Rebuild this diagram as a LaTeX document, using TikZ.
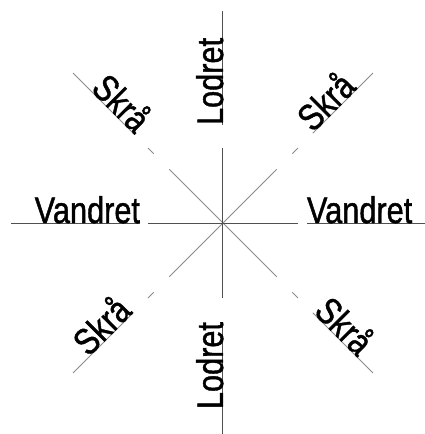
\documentclass[tikz,border=0pt]{standalone}
\usepackage{graphicx}
\usepackage{fontspec}
\setmainfont[FakeBold=1.3]{Liberation Sans}
\newcommand\narrowtext[1]{\scalebox{0.83}[1]{#1}}
\definecolor{axisgray}{HTML}{505050}
\definecolor{diaggray}{HTML}{8C8C8C}
\begin{document}
\begin{tikzpicture}[x=1pt,y=1pt,
  axisline/.style={draw=axisgray,line width=1pt},
  diagline/.style={draw=diaggray,line width=1pt},
  lbl/.style={inner sep=0pt,outer sep=0pt,font=\fontsize{37}{40}\selectfont,text=black}]
\fill[white] (-223,-211) rectangle (202,223);
\useasboundingbox (-223,-211) rectangle (202,223);
\coordinate (c) at (0,0);
% axis coordinates
\coordinate (inE) at (75,0);
\coordinate (inW) at (-75,0);
\coordinate (inN) at (0,75);
\coordinate (inS) at (0,-75);
\coordinate (oE1) at (84,0);
\coordinate (oE2) at (202,0);
\coordinate (oW1) at (-83,0);
\coordinate (oW2) at (-212,0);
\coordinate (oN1) at (0,98);
\coordinate (oN2) at (0,212);
\coordinate (oS1) at (0,-99);
\coordinate (oS2) at (0,-211);
% diagonal coordinates
\coordinate (inNE) at (45:76pt);
\coordinate (inNW) at (135:76pt);
\coordinate (inSW) at (225:76pt);
\coordinate (inSE) at (315:76pt);
\coordinate (tNEa) at (45:98pt);   \coordinate (tNEb) at (45:106pt);
\coordinate (tNWa) at (135:98pt);  \coordinate (tNWb) at (135:106pt);
\coordinate (tSWa) at (225:98pt);  \coordinate (tSWb) at (225:106pt);
\coordinate (tSEa) at (315:98pt);  \coordinate (tSEb) at (315:106pt);
\coordinate (oNEa) at (45:127pt);  \coordinate (oNEb) at (45:212pt);
\coordinate (oNWa) at (135:125pt); \coordinate (oNWb) at (135:212pt);
\coordinate (oSWa) at (225:127pt); \coordinate (oSWb) at (225:212pt);
\coordinate (oSEa) at (315:127pt); \coordinate (oSEb) at (315:212pt);
% diagonal lines
\draw[diagline] (inNE) -- (inSW);
\draw[diagline] (inNW) -- (inSE);
\draw[diagline] (tNEa) -- (tNEb);
\draw[diagline] (tNWa) -- (tNWb);
\draw[diagline] (tSWa) -- (tSWb);
\draw[diagline] (tSEa) -- (tSEb);
\draw[diagline] (oNEa) -- (oNEb);
\draw[diagline] (oNWa) -- (oNWb);
\draw[diagline] (oSWa) -- (oSWb);
\draw[diagline] (oSEa) -- (oSEb);
% axis lines
\draw[axisline] (inW) -- (inE);
\draw[axisline] (inN) -- (inS);
\draw[axisline] (oE1) -- (oE2);
\draw[axisline] (oW1) -- (oW2);
\draw[axisline] (oN1) -- (oN2);
\draw[axisline] (oS1) -- (oS2);
% labels
\node[lbl,anchor=base west] (vE) at (oE1) {\narrowtext{Vandret}};
\node[lbl,anchor=base east] (vW) at (oW1) {\narrowtext{Vandret}};
\node[lbl,rotate=90,anchor=base west] (lN) at (oN1) {\narrowtext{Lodret}};
\node[lbl,rotate=90,anchor=base east] (lS) at (oS1) {\narrowtext{Lodret}};
\node[lbl,rotate=45,anchor=base west] (sNE) at (oNEa) {\narrowtext{Skrå}};
\node[lbl,rotate=45,anchor=base east] (sSW) at (oSWa) {\narrowtext{Skrå}};
\node[lbl,rotate=-45,anchor=base east] (sNW) at (oNWa) {\narrowtext{Skrå}};
\node[lbl,rotate=-45,anchor=base west] (sSE) at (oSEa) {\narrowtext{Skrå}};
\end{tikzpicture}
\end{document}
